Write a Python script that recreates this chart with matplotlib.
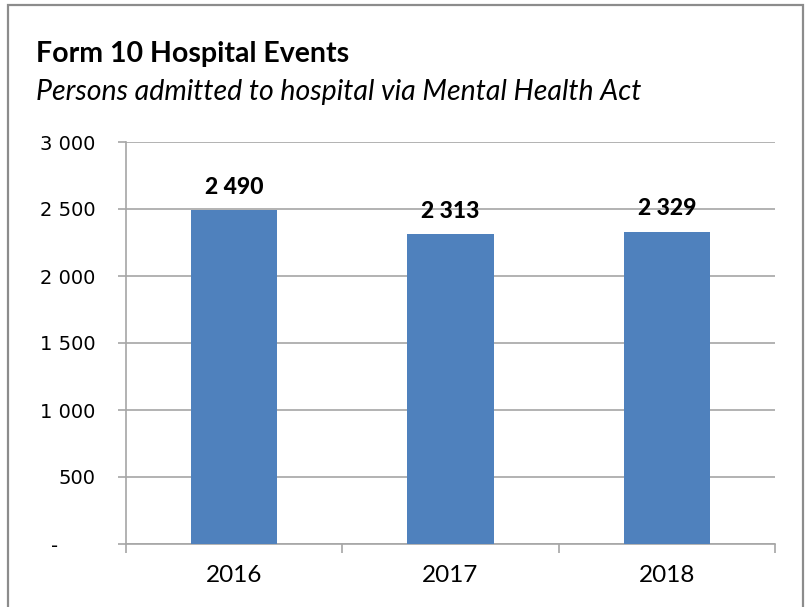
import matplotlib.pyplot as plt
from matplotlib.patches import Rectangle
from matplotlib.ticker import FixedLocator

years = ["2016", "2017", "2018"]
admissions = [2490, 2313, 2329]
ytick_vals = [0, 500, 1000, 1500, 2000, 2500, 3000]
ytick_text = ["-      ", "500", "1 000", "1 500", "2 000", "2 500", "3 000"]

cal = ["Lato", "DejaVu Sans"]  # closest to Calibri here
plt.rcParams["font.family"] = ["DejaVu Sans"]

fig = plt.figure(figsize=(8.09, 6.07), dpi=100)
W, H = 809, 607

# outer chart frame
fig.patches.append(Rectangle((8 / W, -0.02), 795 / W, 1 - 5 / H + 0.02,
                             transform=fig.transFigure, fill=False,
                             edgecolor="#8c8c8c", linewidth=1.6))

fig.text(36 / W, 1 - 62 / H, "Form 10 Hospital Events", family=cal,
         fontsize=20.5, fontweight="bold", ha="left", va="baseline")
fig.text(36 / W, 1 - 100 / H, "Persons admitted to hospital via Mental Health Act",
         family=cal, fontsize=20.5, style="italic", ha="left", va="baseline")

ax = fig.add_axes([126 / W, 1 - 544 / H, 649 / W, 402 / H])
x = range(len(years))
bars = ax.bar(x, admissions, width=0.4, color="#4F81BD", zorder=3)

for b, v in zip(bars, admissions):
    ax.annotate(f"{v:,}".replace(",", " "), (b.get_x() + b.get_width() / 2, v),
                xytext=(0, 9), textcoords="offset points", ha="center", va="bottom",
                fontsize=16.5, fontweight="black", family=cal)

ax.set_xlim(-0.5, 2.5)
ax.set_ylim(0, 3000)
ax.set_yticks(ytick_vals)
ax.set_yticklabels(ytick_text, fontsize=14)
ax.yaxis.grid(True, color="#a6a6a6", linewidth=1.2, zorder=0)

ax.set_xticks(list(x))
ax.set_xticklabels(years, family=cal, fontsize=17.5)
ax.xaxis.set_minor_locator(FixedLocator([-0.5, 0.5, 1.5, 2.5]))
ax.tick_params(axis="x", which="major", length=0, pad=15)
ax.tick_params(axis="x", which="minor", length=6.5, color="#a6a6a6", width=1.2)
ax.tick_params(axis="y", length=6, color="#a6a6a6", width=1.2, pad=16)

for s in ["top", "right"]:
    ax.spines[s].set_visible(False)
for s in ["left", "bottom"]:
    ax.spines[s].set_color("#a6a6a6")
    ax.spines[s].set_linewidth(1.2)

fig.savefig("out.png", dpi=100)
